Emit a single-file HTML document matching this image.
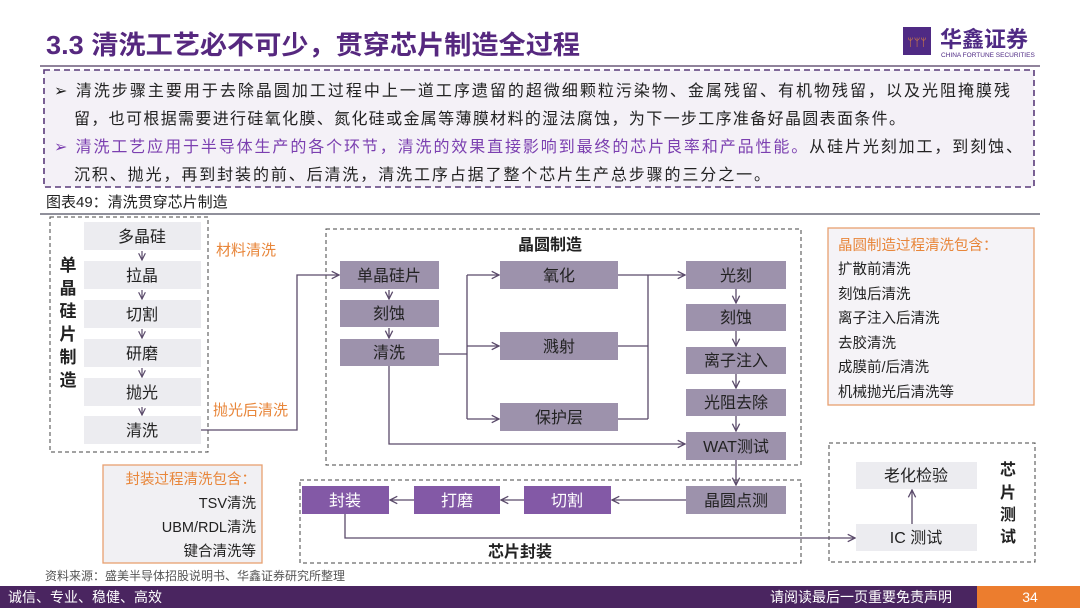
<!DOCTYPE html>
<html><head><meta charset="utf-8">
<style>
html,body{margin:0;padding:0;}
body{width:1080px;height:608px;overflow:hidden;background:#fff;position:relative;font-family:"Liberation Sans","Noto Sans CJK SC",sans-serif;}
svg{position:absolute;left:0;top:0;}
text{font-family:"Liberation Sans","Noto Sans CJK SC",sans-serif;}
</style></head><body>
<svg width="1080" height="608" viewBox="0 0 1080 608" xmlns="http://www.w3.org/2000/svg">
<defs>
<marker id="a" viewBox="0 0 10 10" refX="9" refY="5" markerWidth="7" markerHeight="7" orient="auto-start-reverse"><path d="M1,1 L9,5 L1,9" fill="none" stroke="#5a4a6a" stroke-width="1.4"/></marker>
</defs>
<!-- title -->
<text x="46" y="54" font-size="26" font-weight="bold" fill="#56287f" textLength="534" lengthAdjust="spacingAndGlyphs">3.3 清洗工艺必不可少，贯穿芯片制造全过程</text>
<line x1="40" y1="66" x2="1040" y2="66" stroke="#6b5a7a" stroke-width="1.5"/>
<!-- logo -->
<rect x="903" y="27" width="28" height="28" fill="#4f2a84"/>
<text x="917" y="46" font-size="11" fill="#e88a3a" text-anchor="middle">ᛘᛘᛘ</text>
<text x="940" y="47" font-size="22" fill="#4f2a84" font-weight="bold">华鑫证券</text>
<text x="941" y="57" font-size="6.5" fill="#4f2a84">CHINA FORTUNE SECURITIES</text>
<!-- intro box -->
<rect x="44" y="70" width="990" height="117" fill="#f4f1f7" stroke="#5a3a7a" stroke-width="1.6" stroke-dasharray="6,4"/>
<g font-size="16" fill="#222">
<text x="54" y="96" textLength="956" lengthAdjust="spacing">➢ 清洗步骤主要用于去除晶圆加工过程中上一道工序遗留的超微细颗粒污染物、金属残留、有机物残留，以及光阻掩膜残</text>
<text x="74" y="124" textLength="831" lengthAdjust="spacing">留，也可根据需要进行硅氧化膜、氮化硅或金属等薄膜材料的湿法腐蚀，为下一步工序准备好晶圆表面条件。</text>
<text x="54" y="152" textLength="968" lengthAdjust="spacing"><tspan fill="#7b3fb0">➢ 清洗工艺应用于半导体生产的各个环节，清洗的效果直接影响到最终的芯片良率和产品性能。</tspan>从硅片光刻加工，到刻蚀、</text>
<text x="74" y="180" textLength="696" lengthAdjust="spacing">沉积、抛光，再到封装的前、后清洗，清洗工序占据了整个芯片生产总步骤的三分之一。</text>
</g>
<text x="46" y="207" font-size="15" fill="#222">图表49：清洗贯穿芯片制造</text>
<line x1="40" y1="214" x2="1040" y2="214" stroke="#6b6b7a" stroke-width="1.5"/>

<g fill="none" stroke="#444" stroke-width="1" stroke-dasharray="4,3">
<rect x="50" y="217" width="158" height="235"/>
<rect x="326" y="229" width="475" height="236"/>
<rect x="300" y="480" width="501" height="83"/>
<rect x="829" y="443" width="206" height="119"/>
</g>
<!-- left column -->
<g fill="#ececf0">
<rect x="84" y="222" width="117" height="28"/><rect x="84" y="261" width="117" height="28"/><rect x="84" y="300" width="117" height="28"/>
<rect x="84" y="339" width="117" height="28"/><rect x="84" y="378" width="117" height="28"/><rect x="84" y="416" width="117" height="28"/>
</g>
<g font-size="16" fill="#222" text-anchor="middle">
<text x="142" y="242">多晶硅</text><text x="142" y="281">拉晶</text><text x="142" y="320">切割</text>
<text x="142" y="359">研磨</text><text x="142" y="398">抛光</text><text x="142" y="436">清洗</text>
</g>
<g stroke="#5a4a6a" stroke-width="1.2" fill="none" marker-end="url(#a)">
<line x1="142" y1="251" x2="142" y2="260"/><line x1="142" y1="290" x2="142" y2="299"/><line x1="142" y1="329" x2="142" y2="338"/>
<line x1="142" y1="368" x2="142" y2="377"/><line x1="142" y1="407" x2="142" y2="415"/>
</g>
<g font-size="17" font-weight="bold" fill="#222" text-anchor="middle">
<text x="68" y="271">单</text><text x="68" y="294">晶</text><text x="68" y="317">硅</text><text x="68" y="340">片</text><text x="68" y="363">制</text><text x="68" y="386">造</text>
</g>
<text x="216" y="255" font-size="15" fill="#e8863a">材料清洗</text>
<text x="213" y="415" font-size="15" fill="#e8863a">抛光后清洗</text>

<!-- wafer -->
<text x="550" y="250" font-size="16" font-weight="bold" fill="#222" text-anchor="middle">晶圆制造</text>
<g fill="#9d92ac">
<rect x="340" y="261" width="99" height="28"/><rect x="340" y="300" width="99" height="27"/><rect x="340" y="339" width="99" height="27"/>
<rect x="500" y="261" width="118" height="28"/><rect x="500" y="332" width="118" height="28"/><rect x="500" y="403" width="118" height="28"/>
<rect x="686" y="261" width="100" height="28"/><rect x="686" y="304" width="100" height="27"/><rect x="686" y="347" width="100" height="27"/>
<rect x="686" y="389" width="100" height="27"/><rect x="686" y="432" width="100" height="28"/>
<rect x="686" y="486" width="100" height="28"/>
</g>
<g fill="#8359a6">
<rect x="302" y="486" width="87" height="28"/><rect x="414" y="486" width="86" height="28"/><rect x="524" y="486" width="87" height="28"/>
</g>
<g font-size="16" fill="#222" text-anchor="middle">
<text x="389" y="281">单晶硅片</text><text x="389" y="319">刻蚀</text><text x="389" y="358">清洗</text>
<text x="559" y="281">氧化</text><text x="559" y="352">溅射</text><text x="559" y="423">保护层</text>
<text x="736" y="281">光刻</text><text x="736" y="323">刻蚀</text><text x="736" y="366">离子注入</text>
<text x="736" y="408">光阻去除</text><text x="736" y="452">WAT测试</text><text x="736" y="506">晶圆点测</text>
</g>
<g font-size="16" fill="#fff" text-anchor="middle">
<text x="345" y="506">封装</text><text x="457" y="506">打磨</text><text x="567" y="506">切割</text>
</g>
<g stroke="#5a4a6a" stroke-width="1.3" fill="none">
<polyline points="201,430 297,430 297,275 339,275" marker-end="url(#a)"/>
<line x1="389" y1="290" x2="389" y2="299" marker-end="url(#a)"/>
<line x1="389" y1="328" x2="389" y2="338" marker-end="url(#a)"/>
<polyline points="439,354 467,354"/>
<line x1="467" y1="275" x2="467" y2="419"/>
<line x1="467" y1="275" x2="499" y2="275" marker-end="url(#a)"/>
<line x1="467" y1="346" x2="499" y2="346" marker-end="url(#a)"/>
<line x1="467" y1="419" x2="499" y2="419" marker-end="url(#a)"/>
<line x1="618" y1="275" x2="685" y2="275" marker-end="url(#a)"/>
<line x1="648" y1="275" x2="648" y2="419"/>
<line x1="618" y1="346" x2="648" y2="346"/>
<line x1="618" y1="419" x2="648" y2="419"/>
<polyline points="389,366 389,444 685,444" marker-end="url(#a)"/>
<line x1="736" y1="289" x2="736" y2="303" marker-end="url(#a)"/>
<line x1="736" y1="331" x2="736" y2="346" marker-end="url(#a)"/>
<line x1="736" y1="374" x2="736" y2="388" marker-end="url(#a)"/>
<line x1="736" y1="416" x2="736" y2="431" marker-end="url(#a)"/>
<line x1="736" y1="460" x2="736" y2="485" marker-end="url(#a)"/>
<line x1="686" y1="500" x2="612" y2="500" marker-end="url(#a)"/>
<line x1="524" y1="500" x2="501" y2="500" marker-end="url(#a)"/>
<line x1="414" y1="500" x2="390" y2="500" marker-end="url(#a)"/>
<polyline points="345,514 345,538 855,538" marker-end="url(#a)"/>
<line x1="912" y1="524" x2="912" y2="490" marker-end="url(#a)"/>
</g>
<text x="520" y="557" font-size="16" font-weight="bold" fill="#222" text-anchor="middle">芯片封装</text>

<!-- right orange box -->
<rect x="828" y="228" width="206" height="177" fill="#f5f3f7" stroke="#e8a070" stroke-width="1.3"/>
<g font-size="14.5" fill="#222">
<text x="838" y="250" fill="#e8863a">晶圆制造过程清洗包含：</text>
<text x="838" y="274">扩散前清洗</text><text x="838" y="299">刻蚀后清洗</text><text x="838" y="323">离子注入后清洗</text>
<text x="838" y="348">去胶清洗</text><text x="838" y="372">成膜前/后清洗</text><text x="838" y="397">机械抛光后清洗等</text>
</g>
<!-- chip test -->
<rect x="856" y="462" width="121" height="27" fill="#ececf0"/>
<rect x="856" y="524" width="121" height="27" fill="#ececf0"/>
<text x="916" y="481" font-size="16" fill="#222" text-anchor="middle">老化检验</text>
<text x="916" y="543" font-size="16" fill="#222" text-anchor="middle">IC 测试</text>
<g font-size="16" font-weight="bold" fill="#222" text-anchor="middle">
<text x="1008" y="475">芯</text><text x="1008" y="498">片</text><text x="1008" y="520">测</text><text x="1008" y="542">试</text>
</g>
<!-- package box -->
<rect x="103" y="465" width="159" height="98" fill="#f1f0f3" stroke="#e8a070" stroke-width="1.3"/>
<g font-size="14.5" fill="#222" text-anchor="end">
<text x="256" y="484" fill="#e8863a">封装过程清洗包含：</text>
<text x="256" y="508">TSV清洗</text><text x="256" y="532">UBM/RDL清洗</text><text x="256" y="556">键合清洗等</text>
</g>
<text x="45" y="580" font-size="12" fill="#555">资料来源：盛美半导体招股说明书、华鑫证券研究所整理</text>
<!-- footer -->
<rect x="0" y="586" width="1080" height="22" fill="#4a2560"/>
<rect x="977" y="586" width="103" height="22" fill="#ec7d2e"/>
<text x="8" y="602" font-size="14" fill="#fff">诚信、专业、稳健、高效</text>
<text x="770" y="602" font-size="14" fill="#fff">请阅读最后一页重要免责声明</text>
<text x="1030" y="602" font-size="14" fill="#fff" text-anchor="middle">34</text>
</svg>
</body></html>
